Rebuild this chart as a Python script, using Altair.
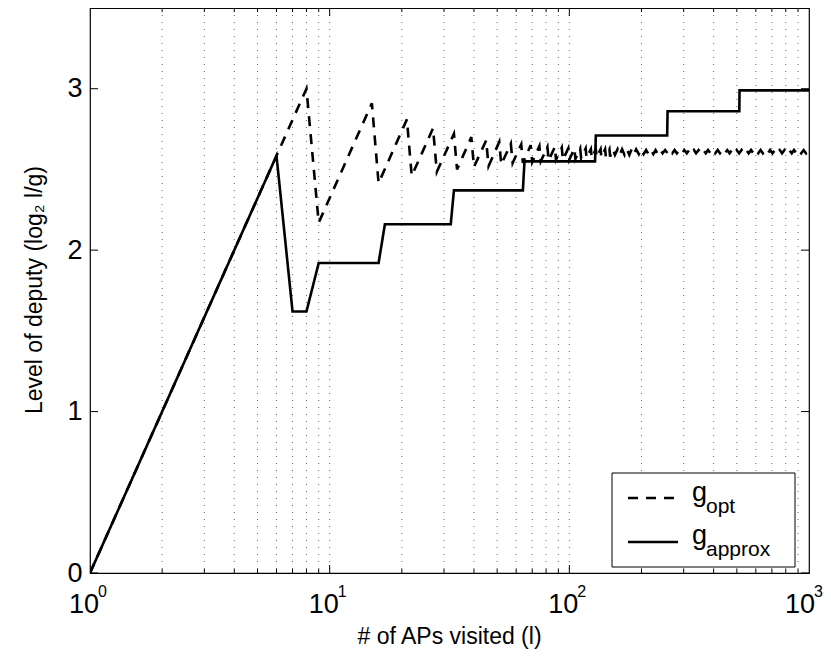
import altair as alt
import pandas as pd

# ---- data ----
approx_l = [1, 6, 7, 8, 9, 16, 17, 32, 33, 64, 65, 128, 129, 256, 257, 512, 513, 1000]
approx_level = [0, 2.585, 1.62, 1.62, 1.92, 1.92, 2.16, 2.16, 2.37, 2.37, 2.55, 2.55,
                2.71, 2.71, 2.86, 2.86, 2.99, 2.99]

# g_opt: visible saw-tooth up to ~150
opt_l = [1, 6, 8, 9, 15, 16, 21, 22, 27, 28, 33, 34, 39, 40, 45, 46, 51, 52, 57, 58,
         63, 64, 69, 70, 75, 76, 81, 82, 87, 88, 93, 94, 99, 100, 105, 106, 111, 112,
         117, 118, 123, 124, 129, 130, 135, 136, 141, 142, 147, 148]
opt_level = [0, 2.585, 3.0, 2.17, 2.91, 2.415, 2.81, 2.46, 2.755, 2.485, 2.72, 2.50,
             2.70, 2.515, 2.68, 2.52, 2.67, 2.53, 2.66, 2.54,
             2.655, 2.54, 2.65, 2.545, 2.645, 2.55, 2.64, 2.555, 2.64, 2.56, 2.635, 2.56,
             2.63, 2.56, 2.63, 2.565, 2.63, 2.57, 2.63, 2.57, 2.625, 2.57, 2.625, 2.575,
             2.625, 2.575, 2.625, 2.58, 2.625, 2.58]
# g_opt: dense, small oscillation (thick band) beyond ~150
opt_tail = [(152, 2.625), (155, 2.59), (159, 2.625), (162, 2.59), (166, 2.625), (170, 2.59),
            (174, 2.625), (178, 2.59), (182, 2.625), (186, 2.595), (190, 2.625), (195, 2.595),
            (199, 2.625), (204, 2.595), (209, 2.62), (214, 2.595), (219, 2.62), (224, 2.595),
            (229, 2.62), (234, 2.595), (240, 2.62), (245, 2.6), (251, 2.62), (257, 2.6),
            (263, 2.62), (269, 2.6), (275, 2.62), (281, 2.6), (288, 2.62), (295, 2.6),
            (302, 2.62), (309, 2.6), (316, 2.62), (323, 2.6), (331, 2.62), (338, 2.6),
            (346, 2.62), (354, 2.6), (362, 2.62), (371, 2.6), (379, 2.62), (388, 2.6),
            (397, 2.62), (406, 2.6), (416, 2.62), (425, 2.6), (435, 2.62), (445, 2.6),
            (456, 2.62), (466, 2.6), (477, 2.62), (488, 2.6), (499, 2.62), (511, 2.6),
            (523, 2.62), (535, 2.6), (547, 2.62), (560, 2.6), (573, 2.62), (586, 2.6),
            (600, 2.62), (614, 2.6), (628, 2.62), (642, 2.6), (657, 2.62), (673, 2.6),
            (688, 2.62), (704, 2.6), (721, 2.62), (737, 2.6), (755, 2.62), (772, 2.6),
            (790, 2.62), (809, 2.6), (827, 2.62), (847, 2.6), (866, 2.62), (886, 2.6),
            (907, 2.62), (928, 2.6), (950, 2.62), (972, 2.6), (995, 2.62), (1000, 2.61)]

minor_l = [2, 3, 4, 5, 6, 7, 8, 9, 20, 30, 40, 50, 60, 70, 80, 90,
           200, 300, 400, 500, 600, 700, 800, 900]
decades = [1, 10, 100, 1000]
decade_exp = ["0", "1", "2", "3"]
inner_decades = [10, 100]
y_ticks = [0, 1, 2, 3]

x_title = "# of APs visited (l)"
y_title = "Level of deputy (log\u2082 l/g)"
legend_main = ["g", "g"]
legend_sub = ["opt", "approx"]

FONT = "Liberation Sans"
W, H = 719, 565

all_opt_l = opt_l + [p[0] for p in opt_tail]
all_opt_v = opt_level + [p[1] for p in opt_tail]
df = pd.DataFrame({
    "l": approx_l + all_opt_l,
    "level": approx_level + all_opt_v,
    "series": ["approx"] * len(approx_l) + ["opt"] * len(all_opt_l),
})
grid_df = pd.DataFrame({"l": minor_l + inner_decades})
minor_df = pd.DataFrame({"l": minor_l})
major_df = pd.DataFrame({"l": inner_decades})
dec_df = pd.DataFrame({"l": decades[:-1], "exp": decade_exp[:-1]})
dec_last = pd.DataFrame({"l": decades[-1:], "exp": decade_exp[-1:]})
yt_df = pd.DataFrame({"v": y_ticks})
one = pd.DataFrame({"a": [0]})

xs = alt.Scale(type="log", domain=[1, 1000], nice=False)
ys = alt.Scale(domain=[0, 3.5], nice=False, zero=False)
X = alt.X("l:Q", scale=xs, axis=None)

grid = alt.Chart(grid_df).mark_rule(color="#666", strokeWidth=1, strokeDash=[1, 6]).encode(
    x=X
)

lines = alt.Chart(df).mark_line(color="black", strokeWidth=2.6, clip=True).encode(
    x=X,
    y=alt.Y("level:Q", scale=ys,
            axis=alt.Axis(values=y_ticks, format="d", title=None, ticks=False, domain=False,
                          grid=False, labelFont=FONT, labelFontSize=27, labelColor="black",
                          labelPadding=8)),
    strokeDash=alt.StrokeDash("series:N",
                              scale=alt.Scale(domain=["opt", "approx"], range=[[10, 8], [1, 0]]),
                              legend=None),
    order="l:Q",
)

def xticks(data, length, top):
    if top:
        yy = dict(y=alt.value(0), y2=alt.value(length))
    else:
        yy = dict(y=alt.value(H), y2=alt.value(H - length))
    return alt.Chart(data).mark_rule(color="black", strokeWidth=1).encode(x=X, **yy)

def yticks(right):
    if right:
        xx = dict(x=alt.value(W), x2=alt.value(W - 8))
    else:
        xx = dict(x=alt.value(0), x2=alt.value(8))
    return alt.Chart(yt_df).mark_rule(color="black", strokeWidth=1).encode(
        y=alt.Y("v:Q", scale=ys), **xx)

ticks = [xticks(minor_df, 4, False), xticks(major_df, 8, False),
         xticks(minor_df, 4, True), xticks(major_df, 8, True),
         yticks(False), yticks(True)]

def dec_labels(data, dx10, dxexp):
    a = alt.Chart(data).mark_text(text="10", font=FONT, fontSize=27, align="center",
                                  baseline="alphabetic", dx=dx10, color="black").encode(
        x=X, y=alt.value(605))
    b = alt.Chart(data).mark_text(font=FONT, fontSize=16, align="left",
                                  baseline="alphabetic", dx=dxexp, color="black").encode(
        x=X, y=alt.value(589), text="exp:N")
    return [a, b]

labels = dec_labels(dec_df, -6, 8) + dec_labels(dec_last, -9, 5)

xt = alt.Chart(one).mark_text(text=x_title, font=FONT, fontSize=23, align="center",
                              baseline="alphabetic", color="black").encode(
    x=alt.value(W / 2), y=alt.value(636))
yt = alt.Chart(one).mark_text(text=y_title, font=FONT, fontSize=23, align="center",
                              baseline="middle", angle=270, color="black").encode(
    x=alt.value(-55), y=alt.value(282))

# legend
leg_box = alt.Chart(one).mark_rect(fill="white", stroke="black", strokeWidth=1).encode(
    x=alt.value(522), x2=alt.value(705), y=alt.value(465), y2=alt.value(559))
leg_dash = alt.Chart(one).mark_rule(color="black", strokeWidth=2.6, strokeDash=[10, 8]).encode(
    x=alt.value(538), x2=alt.value(588), y=alt.value(490))
leg_solid = alt.Chart(one).mark_rule(color="black", strokeWidth=2.6).encode(
    x=alt.value(538), x2=alt.value(588), y=alt.value(534))
leg_g1 = alt.Chart(one).mark_text(text=legend_main[0], font=FONT, fontSize=27, align="left",
                                  baseline="alphabetic", color="black").encode(
    x=alt.value(602), y=alt.value(493))
leg_s1 = alt.Chart(one).mark_text(text=legend_sub[0], font=FONT, fontSize=21, align="left",
                                  baseline="alphabetic", color="black").encode(
    x=alt.value(616), y=alt.value(505))
leg_g2 = alt.Chart(one).mark_text(text=legend_main[1], font=FONT, fontSize=27, align="left",
                                  baseline="alphabetic", color="black").encode(
    x=alt.value(602), y=alt.value(536))
leg_s2 = alt.Chart(one).mark_text(text=legend_sub[1], font=FONT, fontSize=21, align="left",
                                  baseline="alphabetic", color="black").encode(
    x=alt.value(616), y=alt.value(548))

chart = alt.layer(
    grid, lines, *ticks, *labels, xt, yt,
    leg_box, leg_dash, leg_solid, leg_g1, leg_s1, leg_g2, leg_s2
).properties(
    width=W, height=H,
    autosize=alt.AutoSizeParams(type="none"),
    padding={"left": 82, "top": 0, "right": 14, "bottom": 76},
    background="white",
).configure_view(stroke="black", strokeWidth=1.2)

chart.save("out.html", embed_options={"renderer": "svg", "actions": False})
